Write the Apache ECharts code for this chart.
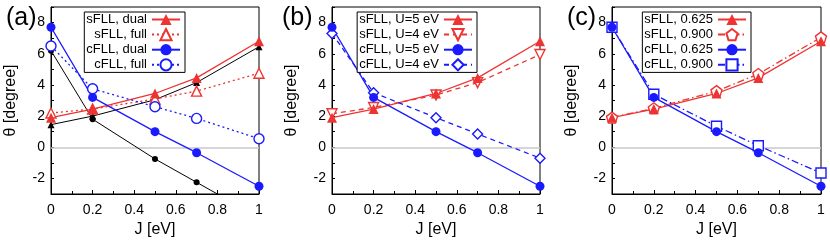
<!DOCTYPE html>
<html><head><meta charset="utf-8">
<script src="https://cdn.jsdelivr.net/npm/echarts@6/dist/echarts.min.js"></script>
<style>html,body{margin:0;padding:0;background:#fff}#c{width:830px;height:244px}</style>
</head><body><div id="c"></div>
<script>
// ---- data ----
const J = [0, 0.2, 0.5, 0.7, 1];
const xTicks = [0, 0.2, 0.4, 0.6, 0.8, 1];
const yTicks = [-2, 0, 2, 4, 6, 8];
// panel (a)
const sfllDual = [1.9, 2.45, 3.45, 4.45, 6.8];
const sfllFull = [2.2, 2.45, 3.1, 3.6, 4.75];
const cfllDual = [7.7, 3.2, 1.0, -0.35, -2.5];
const cfllFull = [6.5, 3.75, 2.6, 1.85, 0.55];
const refCircle = [6.2, 1.8, -0.75, -2.25, -4.5];
const refTriangle = [1.45, 2.0, 3.05, 4.15, 6.45];
// panel (b)
const sfllU5 = [1.9, 2.45, 3.45, 4.45, 6.8];
const sfllU4 = [2.15, 2.55, 3.35, 4.15, 5.95];
const cfllU5 = [7.7, 3.2, 1.0, -0.35, -2.5];
const cfllU4 = [7.3, 3.5, 1.9, 0.85, -0.7];
// panel (c)
const sfll0625 = [1.9, 2.45, 3.45, 4.45, 6.8];
const sfll0900 = [1.9, 2.5, 3.6, 4.7, 7.05];
const cfll0625 = [7.7, 3.2, 1.0, -0.35, -2.5];
const cfll0900 = [7.7, 3.4, 1.35, 0.1, -1.65];
const panelLabels = ['(a)', '(b)', '(c)'];

// ---- styling ----
const RED = '#ee3333', BLUE = '#1a1aff', BLACK = '#000';
const FONT = 'Liberation Sans, Arial, sans-serif';
const PENTAGON = 'path://M0,-10 L9.51,-3.09 L5.88,8.09 L-5.88,8.09 L-9.51,-3.09 Z';
const grids = [
  {left: 51, top: 7, width: 208, height: 187},
  {left: 332, top: 7, width: 208, height: 187},
  {left: 612, top: 7, width: 209, height: 187}
];
const legendRight = [645, 353, 79];

function pts(ys) { return J.map((x, i) => [x, ys[i]]); }
function ser(name, panel, ys, color, symbol, size, open, dash, extra) {
  const s = {
    name, type: 'line', xAxisIndex: panel, yAxisIndex: panel,
    data: pts(ys), symbol, symbolSize: size, showSymbol: true,
    lineStyle: {color, width: 1.3, type: dash || 'solid'},
    itemStyle: open ? {color: '#fff', borderColor: color, borderWidth: 1.4}
                    : {color, borderColor: color, borderWidth: 0},
    emphasis: {disabled: true}, animation: false, z: 3
  };
  return Object.assign(s, extra || {});
}
const zeroLine = {silent: true, symbol: 'none', label: {show: false},
  lineStyle: {color: '#c8c8c8', width: 1.5, type: 'solid'}, data: [{yAxis: 0}]};

const DOT = [2, 3], DASH = [5, 4], DASHDOT = [7, 3, 1.5, 3];
const series = [
  ser('ref-circle', 0, refCircle, BLACK, 'circle', 6, false, 'solid', {lineStyle: {color: BLACK, width: 1}}),
  ser('ref-triangle', 0, refTriangle, BLACK, 'triangle', 7, false, 'solid', {lineStyle: {color: BLACK, width: 1}}),
  ser('sFLL, full', 0, sfllFull, RED, 'triangle', 10, true, DOT),
  ser('sFLL, dual', 0, sfllDual, RED, 'triangle', 10, false),
  ser('cFLL, full', 0, cfllFull, BLUE, 'circle', 10, true, DOT),
  ser('cFLL, dual', 0, cfllDual, BLUE, 'circle', 9, false, 'solid', {markLine: zeroLine}),

  ser('sFLL, U=4 eV', 1, sfllU4, RED, 'triangle', 10, true, DASH, {symbolRotate: 180}),
  ser('sFLL, U=5 eV', 1, sfllU5, RED, 'triangle', 10, false),
  ser('cFLL, U=4 eV', 1, cfllU4, BLUE, 'diamond', 10, true, DASH),
  ser('cFLL, U=5 eV', 1, cfllU5, BLUE, 'circle', 9, false, 'solid', {markLine: zeroLine}),

  ser('sFLL, 0.900', 2, sfll0900, RED, PENTAGON, 11, true, DASHDOT),
  ser('sFLL, 0.625', 2, sfll0625, RED, 'triangle', 10, false),
  ser('cFLL, 0.900', 2, cfll0900, BLUE, 'rect', 10, true, DASHDOT),
  ser('cFLL, 0.625', 2, cfll0625, BLUE, 'circle', 9, false, 'solid', {markLine: zeroLine})
];
// zero line drawn beneath
series.forEach(s => { if (s.markLine) s.markLine.z = 1; });

const legendNames = [
  ['sFLL, dual', 'sFLL, full', 'cFLL, dual', 'cFLL, full'],
  ['sFLL, U=5 eV', 'sFLL, U=4 eV', 'cFLL, U=5 eV', 'cFLL, U=4 eV'],
  ['sFLL, 0.625', 'sFLL, 0.900', 'cFLL, 0.625', 'cFLL, 0.900']
];

const option = {
  backgroundColor: '#fff',
  animation: false,
  textStyle: {fontFamily: FONT},
  title: panelLabels.map((t, i) => ({
    text: t, left: [1, 277, 562][i], top: 1,
    textStyle: {fontSize: 25, fontWeight: 'normal', color: '#000', fontFamily: FONT}
  })),
  grid: grids.map(g => Object.assign({show: true, borderColor: '#000', borderWidth: 1, backgroundColor: 'transparent', containLabel: false}, g)),
  legend: legendNames.map((names, i) => ({
    data: names, orient: 'vertical', align: 'right', right: legendRight[i], top: 12,
    itemWidth: 28, itemHeight: 14, itemGap: 2, padding: [1, 4, 1, 2],
    borderColor: '#000', borderWidth: 1, backgroundColor: '#fff',
    selectedMode: false, textStyle: {fontSize: 13, color: '#000', fontFamily: FONT},
    z: 10
  })),
  xAxis: grids.map((g, i) => ({
    type: 'value', gridIndex: i, min: 0, max: 1, interval: 0.2,
    name: 'J [eV]', nameLocation: 'middle', nameGap: 25,
    nameTextStyle: {fontSize: 16, color: '#000', fontFamily: FONT},
    axisLine: {show: true, onZero: false, lineStyle: {color: '#000', width: 1}},
    axisTick: {show: true, inside: true, length: 4, lineStyle: {color: '#000'}},
    minorTick: {show: true, splitNumber: 2, length: 3, lineStyle: {color: '#000'}},
    splitLine: {show: false},
    axisLabel: {fontSize: 14, color: '#000', margin: 9, fontFamily: FONT,
      formatter: v => xTicks.some(t => Math.abs(t - v) < 1e-9) ? String(Math.round(v * 10) / 10) : ''}
  })),
  yAxis: grids.map((g, i) => ({
    type: 'value', gridIndex: i, min: -3, max: 9, interval: 1,
    name: 'θ [degree]', nameLocation: 'middle', nameGap: 32,
    nameTextStyle: {fontSize: 16, color: '#000', fontFamily: FONT},
    axisLine: {show: true, onZero: false, lineStyle: {color: '#000', width: 1}},
    axisTick: {show: true, inside: true, length: 3, lineStyle: {color: '#000'}},
    splitLine: {show: false},
    axisLabel: {fontSize: 14, color: '#000', margin: 6, fontFamily: FONT,
      formatter: v => yTicks.includes(Math.round(v)) ? String(Math.round(v)) : ''}
  })),
  series
};
const chart = echarts.init(document.getElementById('c'), null, {renderer: 'canvas'});
chart.setOption(option);
</script></body></html>
